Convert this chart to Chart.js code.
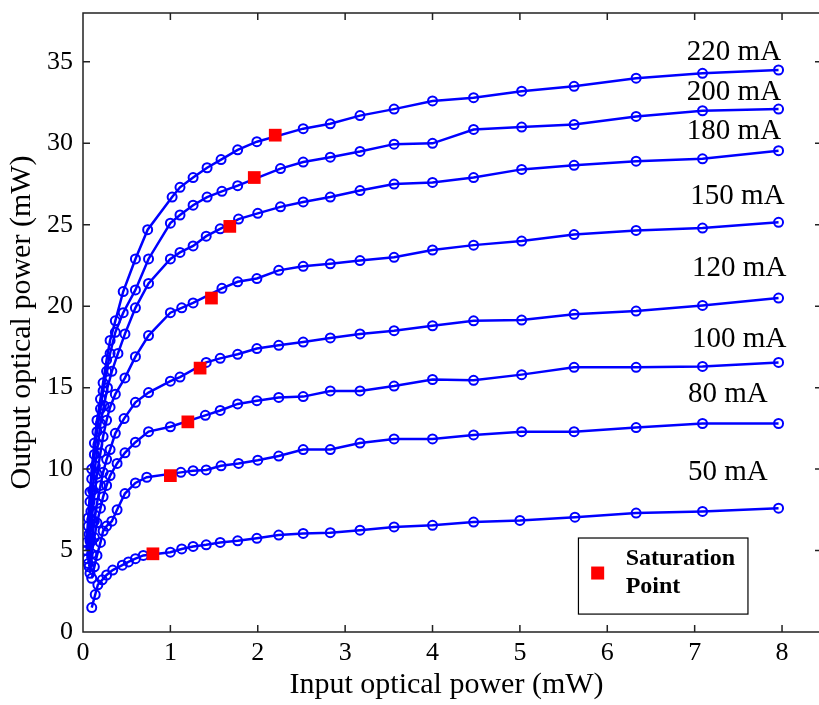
<!DOCTYPE html>
<html>
<head>
<meta charset="utf-8">
<script src="https://cdn.jsdelivr.net/npm/chart.js@4"></script>
<style>
  html, body { margin: 0; padding: 0; background: #fff; }
  #wrap { width: 819px; height: 705px; }
</style>
</head>
<body>
<div id="wrap"><canvas id="chart_a" width="819" height="705"></canvas></div>
<script>
// input / output optical power (mW) per bias current
var in50  = [0.1, 0.14, 0.17, 0.22, 0.27, 0.34, 0.45, 0.52, 0.6, 0.69, 1.0, 1.13, 1.26, 1.41, 1.57, 1.77, 1.99, 2.24, 2.52, 2.83, 3.17, 3.56, 4.0, 4.47, 5.0, 5.63, 6.33, 7.09, 7.96];
var out50 = [1.5, 2.3, 2.9, 3.2, 3.5, 3.8, 4.1, 4.3, 4.5, 4.7, 4.9, 5.1, 5.25, 5.35, 5.5, 5.6, 5.75, 5.95, 6.05, 6.1, 6.25, 6.45, 6.55, 6.75, 6.85, 7.05, 7.3, 7.4, 7.6];

var in80  = [0.1, 0.13, 0.16, 0.2, 0.23, 0.27, 0.33, 0.39, 0.48, 0.6, 0.73, 1.12, 1.26, 1.41, 1.58, 1.78, 2.0, 2.24, 2.52, 2.83, 3.17, 3.56, 4.0, 4.47, 5.02, 5.62, 6.33, 7.09, 7.96];
var out80 = [3.3, 4.0, 4.7, 5.5, 6.2, 6.5, 6.8, 7.5, 8.5, 9.15, 9.5, 9.8, 9.9, 9.95, 10.2, 10.35, 10.55, 10.8, 11.2, 11.2, 11.6, 11.85, 11.85, 12.1, 12.3, 12.3, 12.55, 12.8, 12.8];

var in100  = [0.08, 0.1, 0.13, 0.16, 0.2, 0.23, 0.27, 0.31, 0.39, 0.48, 0.6, 0.75, 1.0, 1.4, 1.57, 1.77, 1.99, 2.24, 2.52, 2.83, 3.17, 3.56, 4.0, 4.47, 5.02, 5.62, 6.33, 7.09, 7.96];
var out100 = [3.6, 4.8, 5.8, 6.7, 7.6, 8.3, 9.0, 9.6, 10.35, 11.0, 11.65, 12.3, 12.6, 13.3, 13.6, 14.0, 14.2, 14.4, 14.45, 14.8, 14.8, 15.1, 15.5, 15.45, 15.8, 16.25, 16.25, 16.3, 16.55];

var in120  = [0.07, 0.1, 0.13, 0.16, 0.2, 0.23, 0.27, 0.31, 0.37, 0.47, 0.6, 0.75, 1.0, 1.11, 1.41, 1.57, 1.77, 1.99, 2.24, 2.52, 2.83, 3.17, 3.56, 4.0, 4.47, 5.02, 5.62, 6.33, 7.09, 7.96];
var out120 = [4.0, 5.6, 6.8, 7.9, 9.0, 9.8, 10.6, 11.2, 12.2, 13.1, 14.1, 14.7, 15.4, 15.65, 16.55, 16.8, 17.05, 17.4, 17.6, 17.8, 18.05, 18.3, 18.5, 18.8, 19.1, 19.15, 19.5, 19.7, 20.05, 20.5];

var in150  = [0.06, 0.08, 0.1, 0.13, 0.16, 0.2, 0.23, 0.27, 0.31, 0.37, 0.48, 0.6, 0.75, 1.0, 1.13, 1.26, 1.59, 1.77, 1.99, 2.24, 2.52, 2.83, 3.17, 3.56, 4.0, 4.47, 5.02, 5.62, 6.33, 7.09, 7.96];
var out150 = [4.2, 5.6, 6.9, 8.4, 9.7, 11.0, 12.0, 13.0, 13.8, 14.6, 15.6, 16.9, 18.2, 19.6, 19.9, 20.2, 21.1, 21.5, 21.7, 22.2, 22.45, 22.6, 22.8, 23.0, 23.45, 23.75, 24.0, 24.4, 24.65, 24.8, 25.15];

var in180  = [0.05, 0.07, 0.09, 0.11, 0.14, 0.17, 0.2, 0.24, 0.28, 0.33, 0.4, 0.48, 0.6, 0.75, 1.0, 1.11, 1.26, 1.41, 1.57, 1.78, 2.0, 2.26, 2.52, 2.83, 3.17, 3.56, 4.0, 4.47, 5.02, 5.62, 6.33, 7.09, 7.96];
var out180 = [4.5, 6.0, 7.4, 8.7, 10.2, 11.5, 12.8, 13.9, 15.0, 16.0, 17.1, 18.3, 19.9, 21.4, 22.9, 23.3, 23.7, 24.3, 24.75, 25.35, 25.7, 26.1, 26.4, 26.7, 27.1, 27.5, 27.6, 27.9, 28.4, 28.65, 28.9, 29.05, 29.55];

var in200  = [0.04, 0.06, 0.08, 0.1, 0.13, 0.16, 0.2, 0.23, 0.27, 0.31, 0.37, 0.46, 0.6, 0.75, 1.0, 1.11, 1.26, 1.42, 1.59, 1.77, 2.26, 2.52, 2.83, 3.17, 3.56, 4.0, 4.47, 5.02, 5.62, 6.33, 7.09, 7.96];
var out200 = [5.0, 6.5, 8.0, 9.4, 10.9, 12.3, 13.7, 14.8, 16.0, 17.1, 18.4, 19.6, 21.0, 22.9, 25.1, 25.6, 26.2, 26.7, 27.05, 27.4, 28.45, 28.85, 29.15, 29.5, 29.95, 30.0, 30.85, 31.0, 31.15, 31.65, 32.0, 32.1];

var in220  = [0.04, 0.06, 0.08, 0.1, 0.13, 0.16, 0.2, 0.23, 0.27, 0.31, 0.37, 0.46, 0.6, 0.74, 1.02, 1.11, 1.26, 1.42, 1.58, 1.77, 1.99, 2.52, 2.83, 3.17, 3.56, 4.0, 4.47, 5.02, 5.62, 6.33, 7.09, 7.96];
var out220 = [5.5, 7.0, 8.6, 10.0, 11.6, 13.0, 14.3, 15.3, 16.7, 17.9, 19.1, 20.9, 22.9, 24.7, 26.7, 27.3, 27.9, 28.5, 29.0, 29.6, 30.1, 30.9, 31.2, 31.7, 32.1, 32.6, 32.8, 33.2, 33.5, 34.0, 34.3, 34.5];

// saturation points
var satInput  = [0.8, 1.0, 1.2, 1.34, 1.47, 1.68, 1.96, 2.2];
var satOutput = [4.8, 9.6, 12.9, 16.2, 20.5, 24.9, 27.9, 30.5];

var curveNames = ['50 mA', '80 mA', '100 mA', '120 mA', '150 mA', '180 mA', '200 mA', '220 mA'];
var xTicks = [0, 1, 2, 3, 4, 5, 6, 7, 8];
var yTicks = [0, 5, 10, 15, 20, 25, 30, 35];

var curveInputs  = [in50, in80, in100, in120, in150, in180, in200, in220];
var curveOutputs = [out50, out80, out100, out120, out150, out180, out200, out220];

// where the current labels sit (data units, text centre)
var labelAt = [[7.38, 9.82], [7.38, 14.6], [7.51, 17.98], [7.51, 22.33], [7.49, 26.75], [7.45, 30.74], [7.45, 33.13], [7.45, 35.58]];

var SERIF = "'Liberation Serif', 'Times New Roman', serif";

function toPoints(xs, ys) {
  return xs.map(function (x, i) { return {x: x, y: ys[i]}; });
}

var datasets = [{
  label: 'Saturation Point',
  data: toPoints(satInput, satOutput),
  showLine: false,
  pointStyle: 'rect',
  pointRadius: 9,
  pointBackgroundColor: '#ff0000',
  pointBorderColor: '#ff0000',
  pointBorderWidth: 0
}];

curveNames.forEach(function (name, i) {
  datasets.push({
    label: name,
    data: toPoints(curveInputs[i], curveOutputs[i]),
    showLine: true,
    borderColor: '#0000ff',
    borderWidth: 2.5,
    tension: 0,
    pointStyle: 'circle',
    pointRadius: 4.5,
    pointBorderWidth: 2,
    pointBorderColor: '#0000ff',
    pointBackgroundColor: 'rgba(0,0,0,0)'
  });
});

var framePlugin = {
  id: 'frame',
  afterDraw: function (chart) {
    var ctx = chart.ctx, a = chart.chartArea;
    var sx = chart.scales.x, sy = chart.scales.y;
    var edge = chart.width; // the right side of the frame runs off the picture
    ctx.save();
    ctx.strokeStyle = '#222';
    ctx.lineWidth = 1.5;
    ctx.beginPath();
    ctx.moveTo(edge, a.top); ctx.lineTo(a.left, a.top);
    ctx.lineTo(a.left, a.bottom); ctx.lineTo(edge, a.bottom);
    // inward ticks
    var tl = 7;
    xTicks.forEach(function (v) {
      var px = sx.getPixelForValue(v);
      ctx.moveTo(px, a.bottom); ctx.lineTo(px, a.bottom - tl);
      ctx.moveTo(px, a.top); ctx.lineTo(px, a.top + tl);
    });
    yTicks.forEach(function (v) {
      var py = sy.getPixelForValue(v);
      ctx.moveTo(a.left, py); ctx.lineTo(a.left + tl, py);
      ctx.moveTo(edge, py); ctx.lineTo(edge - 4, py);
    });
    ctx.stroke();

    // current labels
    ctx.fillStyle = '#000';
    ctx.font = '29px ' + SERIF;
    ctx.textAlign = 'center';
    ctx.textBaseline = 'middle';
    curveNames.forEach(function (name, i) {
      ctx.fillText(name, sx.getPixelForValue(labelAt[i][0]), sy.getPixelForValue(labelAt[i][1]));
    });

    // legend box
    var bx0 = sx.getPixelForValue(5.67), bx1 = sx.getPixelForValue(7.61);
    var by0 = sy.getPixelForValue(5.77), by1 = sy.getPixelForValue(1.1);
    ctx.fillStyle = '#fff';
    ctx.fillRect(bx0, by0, bx1 - bx0, by1 - by0);
    ctx.strokeStyle = '#000';
    ctx.lineWidth = 1.2;
    ctx.strokeRect(bx0, by0, bx1 - bx0, by1 - by0);
    var mx = sx.getPixelForValue(5.89), my = sy.getPixelForValue(3.62);
    ctx.fillStyle = '#ff0000';
    ctx.fillRect(mx - 6.5, my - 6.5, 13, 13);
    ctx.fillStyle = '#000';
    ctx.font = 'bold 24px ' + SERIF;
    ctx.textAlign = 'left';
    ctx.fillText('Saturation', sx.getPixelForValue(6.21), sy.getPixelForValue(4.48));
    ctx.fillText('Point', sx.getPixelForValue(6.21), sy.getPixelForValue(2.76));
    ctx.restore();
  }
};

var ctxL = document.getElementById('chart_a').getContext('2d');
var myChart = new Chart(ctxL, {
  type: 'scatter',
  data: { datasets: datasets },
  plugins: [framePlugin],
  options: {
    responsive: false,
    animation: false,
    events: [],
    layout: { padding: { top: 13, right: 0, bottom: 0, left: 0 } },
    plugins: { legend: { display: false }, tooltip: { enabled: false } },
    scales: {
      x: {
        type: 'linear',
        min: 0,
        max: 8.32,
        afterFit: function (scale) {
          scale.height = 73;
          scale.paddingLeft = 0;
          scale.paddingRight = 0;
        },
        grid: { display: false, drawTicks: false },
        border: { display: false },
        ticks: {
          stepSize: 1,
          includeBounds: false,
          padding: 6,
          color: '#000',
          font: { family: SERIF, size: 26 }
        },
        title: {
          display: true,
          text: 'Input optical power (mW)',
          color: '#000',
          font: { family: SERIF, size: 30 },
          padding: { top: 0, bottom: 2 }
        }
      },
      y: {
        type: 'linear',
        min: 0,
        max: 38,
        afterFit: function (scale) {
          scale.width = 83;
          scale.paddingTop = 0;
          scale.paddingBottom = 0;
        },
        grid: { display: false, drawTicks: false },
        border: { display: false },
        ticks: {
          stepSize: 5,
          includeBounds: false,
          padding: 10,
          color: '#000',
          font: { family: SERIF, size: 26 }
        },
        title: {
          display: true,
          text: 'Output optical power (mW)',
          color: '#000',
          font: { family: SERIF, size: 30 },
          padding: { top: 4, bottom: 0 }
        }
      }
    }
  }
});
</script>
</body>
</html>
